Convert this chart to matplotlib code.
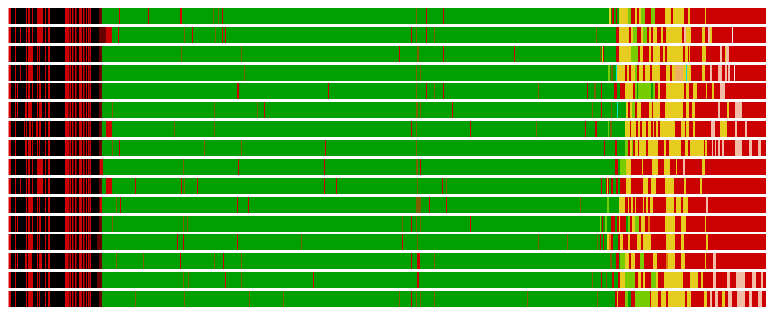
import re
import matplotlib
matplotlib.use("Agg")
import matplotlib.pyplot as plt

# window position range of every track
X_START, X_END = 8, 766

# state colours
state_colors = {
    "K": "#000000",  # black
    "R": "#cc0000",  # red
    "D": "#660000",  # dark red
    "E": "#f08a8a",  # light red edge
    "G": "#00a000",  # green
    "B": "#7a6000",  # olive brown
    "L": "#77cc00",  # light green
    "Y": "#e6cc1e",  # yellow
    "O": "#e07b00",  # orange
    "A": "#ecb060",  # light orange
    "C": "#00e0e0",  # cyan
    "P": "#f2bca6",  # salmon / pink
    "W": "#f8eaea",  # near white
}

# left part of each track: "position+state" breakpoints
left_region = [
    "8E 9.3R 11K 15.3R 16.3K 25.5R 26.5K 28.3R 30K 32.3R 33.3K 36.7R 42.7K 44.5R 45.5K 48R 50K 65R 69D 70R 71K 72R 73D 74K 75R 76D 77K 79R 82K 83R 84D 85K 86R 87K 88R 89D 90R 91K 99D 102G",
    "8E 9.3R 11K 15.3R 16.3K 20R 21K 25.5R 26.5K 28.3R 30K 32.3R 33.3K 36.7R 42.7K 44.5R 45.5K 48R 50K 65R 69D 70R 71K 72R 73D 74K 75R 76D 77K 79R 82K 83R 84D 85K 86R 87K 88R 89D 90R 91K 99D 102.5R 103.3D 105.5R 111.5G",
    "8E 9.3R 11K 15.3R 16.3K 25.5R 26.5K 28.3R 33.3K 36.7R 37.7K 39.3R 40K 41.7R 42.3K 44.5R 45.5K 48R 50K 65R 69D 70R 71K 72R 73D 74K 75R 76D 77K 79R 82K 83R 84D 85K 86R 87K 88R 89D 90R 91K 99D 102G",
    "8E 9.3R 11K 15.3R 16.3K 20R 21K 25.5R 26.5K 28.3R 33.3K 36.7R 37.7K 39.3R 40K 41.7R 42.3K 44.5R 45.5K 48R 50K 65R 69D 70R 71K 72R 73D 74K 75R 76D 77K 79R 82K 83R 84D 85K 86R 87K 88R 89D 90R 91K 99D 102G",
    "8E 9.3R 11K 15R 16K 17R 17.7K 26R 27.3K 28.3R 30K 32.3R 33.3K 36.7R 37.7K 39.3R 40.7K 44.5R 45.7K 48R 49.5K 65R 69D 70R 71K 72R 73D 74K 75R 76D 77K 79R 82K 83R 84D 85K 86R 87K 88R 89D 90R 91K 99D 102G",
    "8E 9.3R 11K 15R 16K 17R 17.7K 25R 26.7K 28.3R 31.7K 36.7R 38.3K 39.3R 41.7K 44.5R 45.5K 48R 49.5K 65R 68.3D 70R 71K 72R 73D 74K 75R 76D 77K 79R 82K 83R 84D 85K 86R 87K 88R 89D 90R 91K 99D 102G",
    "8E 9.3R 11K 15.3R 16.3K 24R 25K 26R 27.3K 29.3R 30.7K 32.3R 33.3K 36R 37.7K 39.3R 40.7K 44.5R 46K 48R 49.5K 65R 69D 70R 71K 72R 73D 74K 75R 76D 77K 79R 82K 83R 84D 85K 86R 87K 88R 89D 90R 91K 99D 102G 106R 111.7G",
    "8E 9.3R 11K 15.3R 16.3K 25R 26.7K 28.3R 30.7K 32.3R 33.3K 36.7R 37.7K 39.3R 40K 41.7R 42.3K 44.5R 45.5K 48R 50K 65R 69D 70R 71K 72R 73D 74K 75R 76D 77K 79R 82K 83R 84D 85K 86R 87K 88R 89D 90R 91K 99D 102G",
    "8E 9.3R 11K 15.3R 16.3K 25.5R 26.5K 28.3R 30K 32.3R 33.3K 36.7R 42.7K 44.5R 45.5K 48R 50K 65R 69D 70R 71K 72R 73D 74K 75R 76D 77K 79R 82K 83R 84D 85K 86R 87K 88R 89D 90R 91K 99D 100R 103G",
    "8E 9.3R 11K 15.3R 16.3K 20R 21K 25.5R 26.5K 28.3R 30K 32.3R 33.3K 36.7R 42.7K 44.5R 45.5K 48R 50K 65R 69D 70R 71K 72R 73D 74K 75R 76D 77K 79R 82K 83R 84D 85K 86R 87K 88R 89D 90R 91K 99D 102G 106R 111.7G",
    "8E 9.3R 11K 15.3R 16.3K 25.5R 26.5K 28.3R 33.3K 36.7R 37.7K 39.3R 40K 41.7R 42.3K 44.5R 45.5K 48R 50K 65R 69D 70R 71K 72R 73D 74K 75R 76D 77K 79R 82K 83R 84D 85K 86R 87K 88R 89D 90R 91K 99D 100R 102G",
    "8E 9.3R 11K 15R 16K 17R 17.7K 26R 27.3K 28.3R 30K 32.3R 33.3K 36.7R 37.7K 39.3R 40.7K 44.5R 45.7K 48R 49.5K 65R 69D 70R 71K 72R 73D 74K 75R 76D 77K 79R 82K 83R 84D 85K 86R 87K 88R 89D 90R 91K 99D 102G",
    "8E 9.3R 11K 15.3R 16.3K 25.5R 26.5K 28.3R 33.3K 36.7R 37.7K 39.3R 40K 41.7R 42.3K 44.5R 45.5K 48R 50K 65R 69D 70R 71K 72R 73D 74K 75R 76D 77K 79R 82K 83R 84D 85K 86R 87K 88R 89D 90R 91K 97D 102G",
    "8E 9.3R 11K 15R 16K 17R 17.7K 25R 26.7K 28.3R 31.7K 36.7R 38.3K 39.3R 41.7K 44.5R 45.5K 48R 49.5K 65R 68.3D 70R 71K 72R 73D 74K 75R 76D 77K 79R 82K 83R 84D 85K 86R 87K 88R 89D 90R 91K 99D 102G",
    "8E 9.3R 11K 15.3R 16.3K 25.5R 26.5K 28.3R 33.3K 36.7R 37.7K 39.3R 40K 41.7R 42.3K 44.5R 45.5K 48R 50K 65R 69D 70R 71K 72R 73D 74K 75R 76D 77K 79R 82K 83R 84D 85K 86R 87K 88R 89D 90R 91K 97D 102G",
    "8E 9.3R 11K 15.3R 16.3K 25.5R 26.5K 28.3R 33.3K 36.7R 37.7K 39.3R 40K 41.7R 42.3K 44.5R 45.5K 48R 50K 65R 69D 70R 71K 72R 73D 74K 75R 76D 77K 79R 82K 83R 84D 85K 86R 87K 88R 89D 90R 91K 99D 102G",
]

# thin marks inside the long green stretch: "position+state[+width]"
mid_lines = [
    "119R 148R 180R2 213B 218B 222R 416B 426R 443R",
    "118R 184B 192R 215B 222R 225R 411R 416B 426R 434B 596B",
    "181B 241B 399R 417B2 443R 514R 600B 602Y 603R",
    "244B 416B 420B 608L2 611B2 616C",
    "237R2 328R 416B 426R 434B 443R 538B 587R 594B2 601R",
    "112B 214B 257B 264R 416B2 420B 452R 592B 601R 611B 617C",
    "174B 214B 411R 416B 470R 536B 585R 595R2 608L 610B2",
    "112B 119R 204B 241B 325R 416B 604R 615R2",
    "183B 238R 324R 416B2 420R",
    "135R 181R 184B 197R 324R 336R 417B 442R 446B",
    "116B 120R 237R 248R 416B5 429R 446R 580B",
    "112B 183B 187B 402B 411R 416B 420B 470R",
    "177R 183R 237R 301B 402R 417B 538B 567B 597B 600R 603R",
    "116B 143B 180R 214B 223R 241B 411R 417R3 434B",
    "183B 188B 225R 241B 313R 417R2 592B 601R 606B",
    "135B 184B 249B 283B 399B 411R 416B 420B 434B 527B 597B",
]

# right part of each track: "position+state" breakpoints
right_region = [
    "609Y 610.7G 612R 614G 615.5R 616.5G 619Y 628L 631R 635Y 637R 639Y 641L 645R 651L 655R 665Y 671R 673Y 684R 688Y 690R 705Y 706R",
    "616R 619Y 629R 631Y 633L 637R 641Y 643L 647R 649Y 651R 653Y 657R 661Y 663R 666Y 682R 684P 686Y 691R 702Y 705R 708P 710Y 712R 731.7W 733R",
    "616R 619Y 631L 638R 640Y 643R 649Y 651R 653Y 660R 663Y 665R 667Y 683R 685Y 688R 689Y 690R 702Y 706R 720P 722R 725Y 726P 729R",
    "617Y 625R 626.5Y 629R 631Y 635L 637R 639Y 643R 645Y 650R 652Y 660R 666Y 670R 672Y 675A 683Y 686C 687Y 691R 702Y 705R 710P 711.5R 718P 722R 725P 727R 728P 730R 734W 735R",
    "614R 617G 620R 625Y 633R 635L 637G 638L 651G 653L 655R 658Y 660R 666Y 684R 686Y 689R 693Y 697R 706Y 707R 712Y 714R 720P 725R",
    "626Y 628R 630Y 631.5L 635R 636.5Y 641R 649Y 651.5R 653Y 660R 665Y 683R 685.5Y 689R 692Y 694.5R 718P 720R 727Y 729R 735P 742R",
    "625Y 630R 631Y 636R 638Y 640R 641.5Y 646R 647.5Y 651R 652.5Y 654R 655.5Y 658R 660Y 675R 681Y 684.5R 686Y 688.5R 693Y 695R 711P 715R 720Y 727R 735P 737R 745P 747R",
    "625L 628R 630Y 631.5L 633R 635Y 637.5R 639Y 646R 648Y 658R 664Y 666R 669Y 681R 685Y 688R 689.5Y 704R 705Y 707R 712P 713R 715P 716R 718P 719.5R 722P 723.5R 735P 742R 749P 752R 758P 761R",
    "615R 617.5G 620L 625.5Y 631R 641.5Y 643R 652Y 658R 664Y 670R 675.5Y 677R 683P 684.5R 702Y 704.5R",
    "601R 602G 605.5R 606.5Y 607.5R 609G 611R 613G 616R 618G 620R 626Y 631R 643Y 648R 651Y 656R 665Y 674R 684Y 686R 700Y 701.5R",
    "607L 609G 618.5Y 625R 628Y 629R 631Y 632.5R 635Y 636R 643Y 644R 646Y 648R 650Y 653R 666Y 674R 676Y 681R 683Y 688R 706P 708R",
    "600L 601G 602R 603G 605L 606.5G 611R 615G 617R 618.5Y 620R 626G 628L 630R 632Y 635L 639R 641Y 645R 648O 650R 665Y 675R 681Y 686R 705Y 706R",
    "607Y 609O 611R 613G 618R 620Y 623R 628Y 630R 637Y 641R 643Y 651R 666Y 675R 681Y 684R 706Y 707.5R",
    "610B 612G 616R 619G 620L 625Y 629R 631Y 635R 640L 644R 653Y 657R 666O 668Y 675R 681Y 685R 705Y 706R 713P 716R",
    "612R 614G 618R 619.5Y 625L 635R 638Y 641R 643Y 645R 651L 656Y 658R 664Y 683R 690Y 698R 701Y 703R 713P 716R 727P 730R 736P 745R 752P 756R 761P 763R",
    "615R 616.5Y 617.5R 625L 628G 631R 635L 650R 651Y 658R 661Y 666R 668Y 685R 687Y 691R 704Y 707R 710P 712R 715P 718R 722Y 725R 728P 732R 737P 745R 749P 752R 758P 762R",
]

BREAK_RE = re.compile(r"(\d+(?:\.\d+)?)([A-Z])")
LINE_RE = re.compile(r"(\d+(?:\.\d+)?)([A-Z])(\d+(?:\.\d+)?)?")


def parse_breaks(text):
    return [(float(p), s) for p, s in BREAK_RE.findall(text)]


def parse_lines(text):
    out = []
    for tok in text.split():
        m = LINE_RE.fullmatch(tok)
        p, s, w = m.groups()
        out.append((float(p), s, float(w) if w else 1.3))
    return out


n_rows = len(left_region)
bar_h = 0.848

fig = plt.figure(figsize=(7.66, 3.09), dpi=100)
ax = fig.add_axes([X_START / 766, 2 / 309, (X_END - X_START) / 766, 299 / 309])
ax.set_xlim(X_START, X_END)
ax.set_ylim(n_rows - 1 + bar_h, 0)
ax.axis("off")

for i in range(n_rows):
    breaks = parse_breaks(left_region[i]) + parse_breaks(right_region[i])
    spans = {}
    for k, (pos, state) in enumerate(breaks):
        end = breaks[k + 1][0] if k + 1 < len(breaks) else X_END
        if end > pos:
            spans.setdefault(state, []).append((pos, end - pos))
    for state, sp in spans.items():
        ax.broken_barh(sp, (i, bar_h), facecolors=state_colors[state],
                       edgecolor="none", linewidth=0, zorder=1)
    lines = {}
    for pos, state, w in parse_lines(mid_lines[i]):
        lines.setdefault(state, []).append((pos, w))
    for state, sp in lines.items():
        ax.broken_barh(sp, (i, bar_h), facecolors=state_colors[state],
                       edgecolor="none", linewidth=0, zorder=2)

fig.savefig("out.png", dpi=100)
